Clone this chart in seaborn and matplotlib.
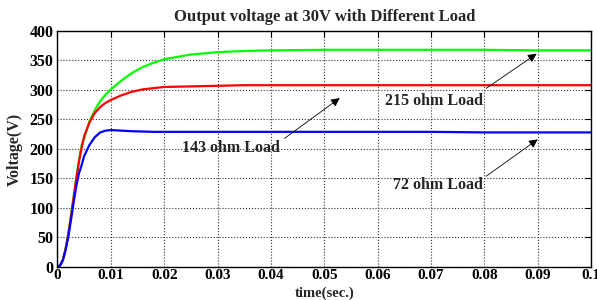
import pandas as pd
import matplotlib
matplotlib.use('Agg')
import matplotlib.pyplot as plt
import seaborn as sns

# tempo (s) e tensões
tempo = [0, 0.0005, 0.001, 0.0015, 0.002, 0.0025, 0.003, 0.0035, 0.004, 0.0045,
         0.005, 0.006, 0.007, 0.008, 0.009, 0.01, 0.012, 0.014, 0.016, 0.018,
         0.02, 0.025, 0.03, 0.035, 0.04, 0.05, 0.06, 0.07, 0.08, 0.09, 0.1]
v_215 = [0, 3, 12, 30, 55, 85, 118, 150, 180, 205,
         218, 247, 266, 281, 292, 301, 316, 329, 339, 346,
         352, 360, 364, 366, 367, 368, 368, 368, 368, 367, 367]
v_143 = [0, 3, 12, 30, 54, 84, 116, 148, 177, 201,
         222, 245, 261, 271, 278, 283, 291, 297, 301, 303,
         305, 306, 307, 308, 308, 308, 308, 308, 308, 308, 308]
v_72 = [0, 3, 11, 28, 50, 78, 108, 136, 158, 172,
        188, 207, 220, 228, 231, 232, 231, 230, 229.5, 229,
        229, 229, 229, 229, 229, 229, 229, 229, 228, 228, 228]

xticks = [0, 0.01, 0.02, 0.03, 0.04, 0.05, 0.06, 0.07, 0.08, 0.09, 0.1]
xtick_labels = ['0', '0.01', '0.02', '0.03', '0.04', '0.05', '0.06', '0.07', '0.08', '0.09', '0.1']
yticks = [0, 50, 100, 150, 200, 250, 300, 350, 400]

cores = {'215': '#00FF00', '143': '#FF0000', '72': '#0000FF'}

df = pd.concat([
    pd.DataFrame({'t': tempo, 'v': v_215, 'carga': '215'}),
    pd.DataFrame({'t': tempo, 'v': v_143, 'carga': '143'}),
    pd.DataFrame({'t': tempo, 'v': v_72, 'carga': '72'}),
])

sns.set_style('white')
plt.rcParams['font.family'] = ['Liberation Serif', 'DejaVu Serif']
plt.rcParams['font.weight'] = 'bold'

fs = 11.5

fig = plt.figure(figsize=(5.97, 3.0), dpi=100)
ax = fig.add_axes([0.0963, 0.11, 0.894, 0.787])
sns.lineplot(data=df, x='t', y='v', hue='carga', palette=cores, linewidth=1.6,
             legend=False, ax=ax, estimator=None, sort=False)

ax.set_xlim(0, 0.1)
ax.set_ylim(0, 400)
ax.set_xticks(xticks)
ax.set_xticklabels(xtick_labels)
ax.set_yticks(yticks)
ax.grid(True, color='#333333', linestyle=':', linewidth=0.8)
ax.tick_params(direction='in', length=4, width=0.8, labelsize=fs, pad=3,
               top=True, right=True, colors='black')
ax.tick_params(axis='x', labelsize=fs - 0.5, pad=1.5)
for s in ax.spines.values():
    s.set_color('black')
    s.set_linewidth(1.0)

ax.set_title('Output voltage at 30V with Different Load', fontsize=fs + 0.5,
             fontweight='bold', pad=7)
ax.set_xlabel('time(sec.)', fontsize=fs - 1, fontweight='bold', va='center')
ax.xaxis.set_label_coords(0.5, -0.112)
ax.set_ylabel('Voltage(V)', fontsize=fs, fontweight='bold', va='center')
ax.yaxis.set_label_coords(-0.08, 0.5)

seta = dict(arrowstyle='-|>', color='black', lw=0.6, mutation_scale=13)
ax.annotate('', xy=(0.0902, 364), xytext=(0.0799, 300), arrowprops=seta)
ax.annotate('', xy=(0.0533, 289), xytext=(0.0421, 215), arrowprops=seta)
ax.annotate('', xy=(0.0904, 219), xytext=(0.0799, 151), arrowprops=seta)
ax.text(0.0797, 282, '215 ohm Load', ha='right', va='center', fontsize=fs, fontweight='bold')
ax.text(0.0417, 201, '143 ohm Load', ha='right', va='center', fontsize=fs, fontweight='bold')
ax.text(0.0797, 139, '72 ohm Load', ha='right', va='center', fontsize=fs, fontweight='bold')

fig.savefig('out.png', dpi=100)
plt.close(fig)
